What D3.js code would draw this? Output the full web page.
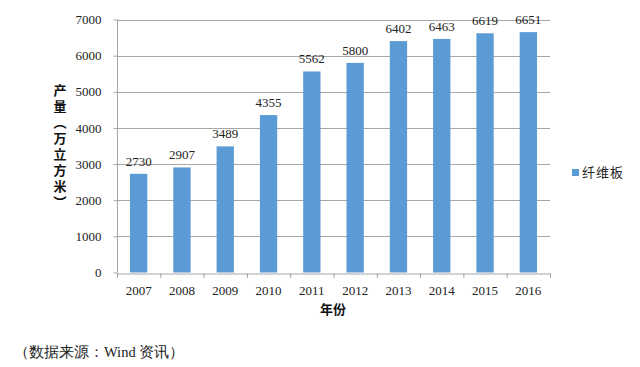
<!DOCTYPE html>
<html><head><meta charset="utf-8">
<script src="https://cdn.jsdelivr.net/npm/d3@7"></script>
<style>body{margin:0;background:#fff}svg{display:block}</style>
</head><body>
<svg id="c" width="640" height="367"></svg>
<script>
const categories = ["2007","2008","2009","2010","2011","2012","2013","2014","2015","2016"];
const values = [2730,2907,3489,4355,5562,5800,6402,6463,6619,6651];
const yTicks = [0,1000,2000,3000,4000,5000,6000,7000];
const seriesName = "纤维板";
const yTitle = "产量（万立方米）";
const xTitle = "年份";
const source = "（数据来源：Wind 资讯）";

const svg = d3.select("#c");
const L = 117, R = 550, T = 19.5, B = 272.5;
const serif = "'Liberation Serif','Times New Roman',serif";
const cjk = "'Noto Sans CJK SC','Liberation Serif',sans-serif";
const x = d3.scaleBand().domain(categories).range([L, R]).paddingInner(0.6).paddingOuter(0.3);
const xb = d3.scaleBand().domain(categories).range([L, R]);
const y = d3.scaleLinear().domain([0,7000]).range([B, T]);

// gridlines
svg.append("g").selectAll("line").data(yTicks.filter(d=>d>0)).join("line")
  .attr("x1", L).attr("x2", R).attr("y1", d=>Math.round(y(d))+0.5).attr("y2", d=>Math.round(y(d))+0.5)
  .attr("stroke", "#a6a6a6").attr("stroke-width", 1);

// bars
svg.append("g").selectAll("rect").data(values).join("rect")
  .attr("x", (d,i)=>x(categories[i])).attr("width", x.bandwidth())
  .attr("y", d=>y(d)).attr("height", d=>B - y(d)).attr("fill", "#5b9bd5");

// y axis
const ya = svg.append("g").attr("transform", `translate(${L+0.5},0)`)
  .call(d3.axisLeft(y).tickValues(yTicks).tickFormat(d3.format("d")).tickSize(4).tickPadding(12));
ya.select(".domain").attr("stroke", "#a6a6a6").attr("d", `M0,${T}V${B}`);
ya.selectAll(".tick line").attr("stroke", "#a6a6a6");
ya.selectAll("text").attr("font-family", serif).attr("font-size", 13).attr("fill", "#222");

// x axis
const xa = svg.append("g").attr("transform", `translate(0,${Math.round(B)+0.5})`)
  .call(d3.axisBottom(xb).tickSize(0).tickPadding(12));
xa.select(".domain").attr("stroke", "#a6a6a6");
xa.selectAll("text").attr("font-family", serif).attr("font-size", 13).attr("fill", "#222");
svg.append("g").selectAll("line").data(categories.concat([null])).join("line")
  .attr("x1", (d,i)=> i<categories.length ? xb(d) : R).attr("x2", (d,i)=> i<categories.length ? xb(d) : R)
  .attr("y1", Math.round(B)).attr("y2", Math.round(B)+5).attr("stroke", "#a6a6a6")
  .attr("transform","translate(0.5,0)");

// data labels
svg.append("g").selectAll("text").data(values).join("text")
  .attr("x", (d,i)=>xb(categories[i]) + xb.bandwidth()/2).attr("y", d=>y(d) - 8)
  .attr("text-anchor", "middle").attr("font-family", serif).attr("font-size", 13).attr("fill", "#222")
  .text(d=>d);

// y title (vertical)
svg.append("text").attr("x", 60).attr("y", 84)
  .attr("font-family", cjk).attr("font-weight", "bold").attr("font-size", 13).attr("fill", "#111")
  .style("writing-mode", "vertical-rl").style("letter-spacing", "3px")
  .text(yTitle);

// x title
svg.append("text").attr("x", 333).attr("y", 314).attr("text-anchor", "middle")
  .attr("font-family", cjk).attr("font-weight", "bold").attr("font-size", 13).attr("fill", "#111")
  .text(xTitle);

// legend
svg.append("rect").attr("x", 572).attr("y", 169).attr("width", 7).attr("height", 7).attr("fill", "#5b9bd5");
svg.append("text").attr("x", 582).attr("y", 177).attr("font-family", cjk).attr("font-size", 13)
  .style("letter-spacing", "1px").attr("fill", "#222").text(seriesName);

// source
svg.append("text").attr("x", 14).attr("y", 357).attr("font-family", serif).attr("font-size", 14.5)
  .attr("fill", "#222").text(source);
</script>
</body></html>
